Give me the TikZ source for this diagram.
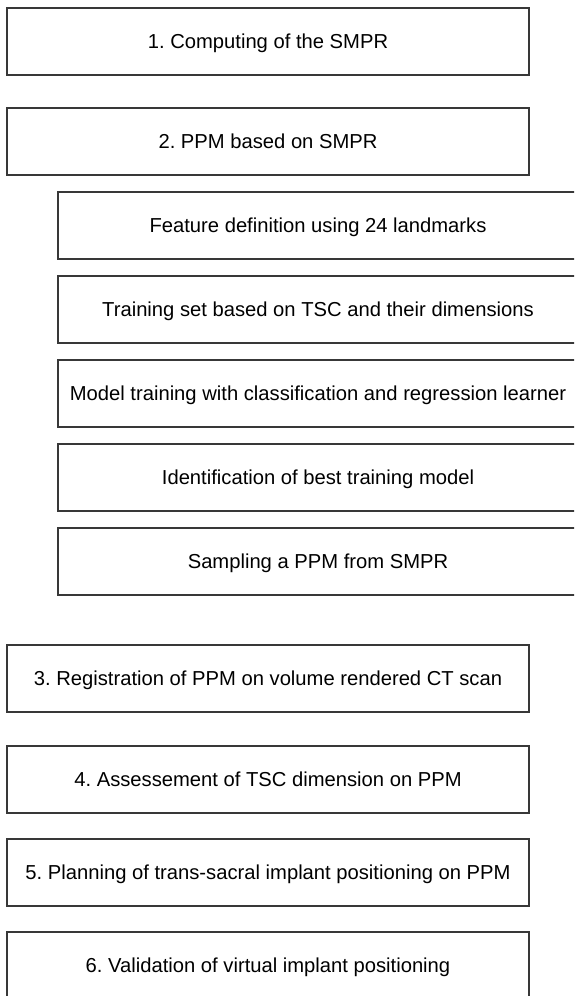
\documentclass[tikz,border=0pt]{standalone}
\usepackage{fontspec}
\setmainfont{Liberation Sans}
\usetikzlibrary{positioning}
\frenchspacing

\begin{document}
\begin{tikzpicture}[x=1pt, y=1pt,
			stepbox/.style={draw=black!78, line width=1.2pt, rectangle, minimum width=522pt, minimum height=67pt, inner sep=0pt, outer sep=0pt, text height=14.5pt, text depth=0pt, font=\fontsize{20.2}{24}\selectfont},
			substep/.style={stepbox, minimum width=520pt},
			every text node part/.style={align=center}]
			\clip (0, 0) rectangle (574, -996);
			\useasboundingbox (0, 0) rectangle (574, -996);
			\node[stepbox](step1) at (268, -41.5) {1. Computing of the SMPR};
			\node[stepbox, below=33pt of step1](step2) {2. PPM based on SMPR};
			
			\node[substep, below right=17pt and 51pt of step2.south west](sub1) {Feature definition using 24 landmarks};
			\node[substep, below=17pt of sub1](sub2) {Training set based on TSC and their dimensions};
			\node[substep, below=17pt of sub2](sub3) {Model training with classification and regression learner};
			\node[substep, below=17pt of sub3](sub4) {Identification of best training model};
			\node[substep, below=17pt of sub4](sub5) {Sampling a PPM from SMPR};
			
			\node[stepbox, below=50pt of sub5, xshift=-50pt](step3) {3. Registration of PPM on volume rendered CT scan};
			\node[stepbox, below=34pt of step3](step4) {4. Assessement of TSC dimension on PPM};
			\node[stepbox, below=26pt of step4](step5) {5. Planning of trans-sacral implant positioning on PPM};
			\node[stepbox, below=26pt of step5](step6) {6. Validation of virtual implant positioning};
			
		\end{tikzpicture}
\end{document}
